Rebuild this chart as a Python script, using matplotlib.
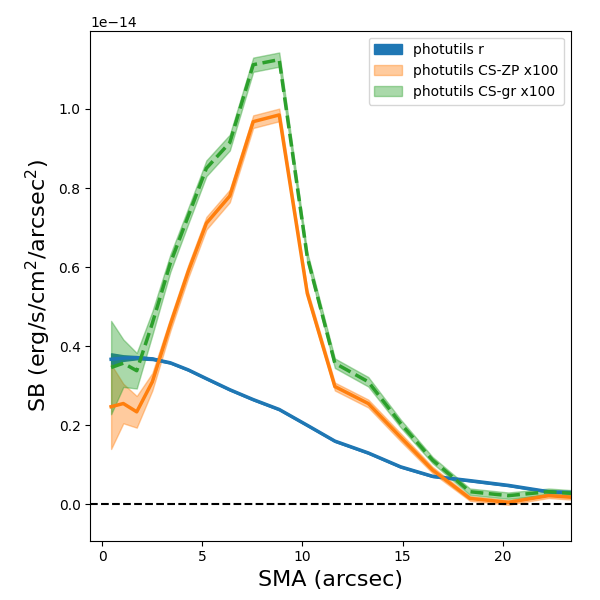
import numpy as np
import matplotlib
matplotlib.use("Agg")
import matplotlib.pyplot as plt

# semi-major axis (arcsec)
sma = [0.44, 1.05, 1.72, 2.5, 3.4, 4.3, 5.2, 6.37, 7.54, 8.84, 10.24,
       11.62, 13.29, 14.9, 16.5, 18.37, 20.29, 22.3, 23.42]

# surface brightness, in units of 1e-14
sb_r = [0.367, 0.370, 0.371, 0.368, 0.358, 0.340, 0.318, 0.290, 0.265, 0.240,
        0.200, 0.160, 0.130, 0.095, 0.071, 0.060, 0.048, 0.032, 0.030]
err_r = [0.015, 0.007, 0.004, 0.003, 0.002, 0.002, 0.002, 0.002, 0.002, 0.002,
         0.002, 0.002, 0.002, 0.002, 0.002, 0.002, 0.002, 0.002, 0.002]

sb_zp = [0.247, 0.255, 0.234, 0.310, 0.455, 0.590, 0.711, 0.780, 0.968, 0.985,
         0.534, 0.298, 0.255, 0.170, 0.087, 0.015, 0.005, 0.022, 0.018]
err_zp = [0.107, 0.050, 0.040, 0.022, 0.016, 0.016, 0.016, 0.016, 0.016, 0.016,
          0.010, 0.010, 0.010, 0.010, 0.008, 0.006, 0.006, 0.006, 0.006]

sb_gr = [0.346, 0.357, 0.338, 0.458, 0.610, 0.730, 0.850, 0.915, 1.112, 1.125,
         0.626, 0.357, 0.310, 0.205, 0.112, 0.032, 0.022, 0.032, 0.028]
err_gr = [0.118, 0.060, 0.045, 0.030, 0.022, 0.020, 0.020, 0.020, 0.018, 0.018,
          0.012, 0.012, 0.012, 0.010, 0.008, 0.008, 0.008, 0.008, 0.008]

scale = 1e-14


def main():
    x = np.array(sma)
    fig, ax = plt.subplots(figsize=(6, 6), dpi=100)
    fig.subplots_adjust(left=0.1505, right=0.9517, top=0.9488, bottom=0.0988)

    r = np.array(sb_r) * scale
    er = np.array(err_r) * scale
    zp = np.array(sb_zp) * scale
    ezp = np.array(err_zp) * scale
    gr = np.array(sb_gr) * scale
    egr = np.array(err_gr) * scale

    ax.fill_between(x, r - er, r + er, color='C0', label='photutils r')
    ax.plot(x, r, color='C0', lw=2.5)

    ax.fill_between(x, zp - ezp, zp + ezp, color='C1', alpha=0.4,
                    label='photutils CS-ZP x100')
    ax.plot(x, zp, color='C1', lw=2.5)

    ax.fill_between(x, gr - egr, gr + egr, color='C2', alpha=0.4,
                    label='photutils CS-gr x100')
    ax.plot(x, gr, color='C2', lw=2.5, ls='--')

    ax.axhline(0, color='k', ls='--')

    ax.set_xlim(-0.6, 23.42)
    ax.set_ylim(-0.092e-14, 1.198e-14)
    ax.set_xlabel('SMA (arcsec)', fontsize=16)
    ax.set_ylabel('SB (erg/s/cm$^2$/arcsec$^2$)', fontsize=16)
    ax.legend(loc='upper right')

    fig.savefig('out.png', dpi=100)


if __name__ == "__main__":
    main()
